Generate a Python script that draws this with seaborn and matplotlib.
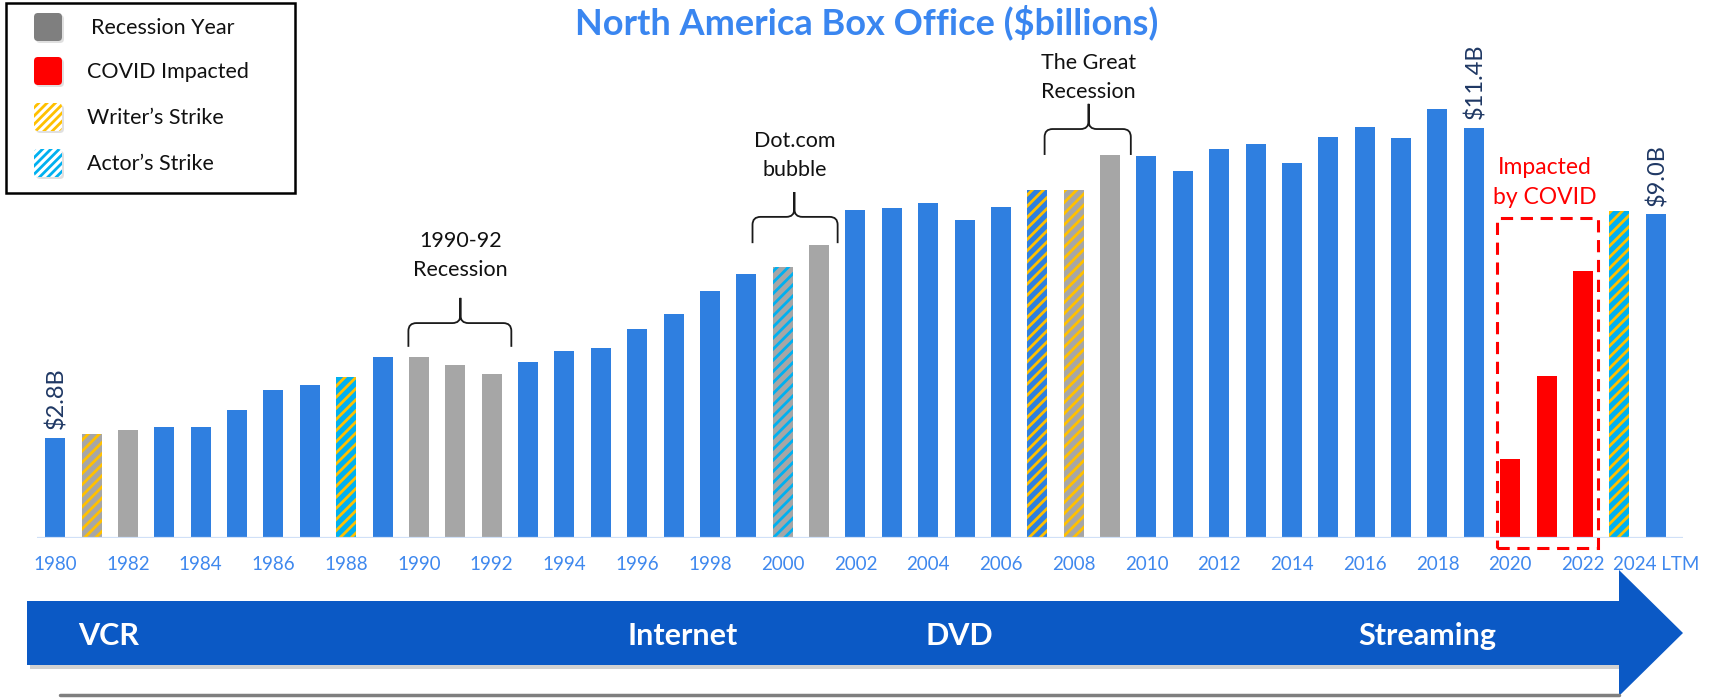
import numpy as np
import matplotlib
matplotlib.use("Agg")
import matplotlib.pyplot as plt
import matplotlib.transforms as mtransforms
from matplotlib.path import Path
from matplotlib.patches import PathPatch, Rectangle, FancyBboxPatch, Polygon
from matplotlib.lines import Line2D
import seaborn as sns

# ---------------- data ----------------
years = [str(y) for y in range(1980, 2024)] + ["2024 LTM"]
box_office = [2.79, 2.89, 3.00, 3.09, 3.09, 3.55, 4.10, 4.25, 4.47, 5.03,
              5.03, 4.81, 4.56, 4.89, 5.19, 5.27, 5.81, 6.22, 6.87, 7.33,
              7.53, 8.14, 9.11, 9.17, 9.31, 8.83, 9.19, 9.67, 9.67, 10.64,
              10.60, 10.20, 10.81, 10.94, 10.43, 11.14, 11.41, 11.12, 11.91, 11.40,
              2.19, 4.50, 7.42, 9.08, 8.99]
# bar category: N normal, R recession, C covid
bar_kind = list("NRRNNNNNNN" "RRRNNNNNNN" "RRNNNNNNRR" "NNNNNNNNNN" "CCCNN")
# stripe overlay: '' none, 'W' writer's strike (yellow), 'A' actor's strike (cyan), 'B' both
strike = ['', 'W', '', '', '', '', '', '', 'B', '',
          '', '', '', '', '', '', '', '', '', '',
          'A', '', '', '', '', '', '', 'W', 'W', '',
          '', '', '', '', '', '', '', '', '', '',
          '', '', '', 'B', '']
tick_labels = [str(y) for y in range(1980, 2023, 2)] + ["2024 LTM"]
value_labels = {0: "$2.8B", 39: "$11.4B", 44: "$9.0B"}
era_labels = ["VCR", "Internet", "DVD", "Streaming"]
legend_labels = ["Recession Year", "COVID Impacted", "Writer\u2019s Strike", "Actor\u2019s Strike"]

BLUE = "#2F7FE0"
GRAY = "#A6A6A6"
RED = "#FF0000"
YELLOW = "#FFC000"
CYAN = "#00B0F0"
kind_color = {"N": BLUE, "R": GRAY, "C": RED}

# ---------------- style ----------------
sns.set_theme(style="white")
plt.rcParams['font.family'] = ['Lato', 'DejaVu Sans']
plt.rcParams['hatch.linewidth'] = 2.0

W, H = 1710, 700
fig = plt.figure(figsize=(W / 100, H / 100), dpi=100)
fig.patch.set_facecolor("white")
# pixel transform, origin top-left
T = mtransforms.Affine2D().scale(1, -1).translate(0, H).scale(1 / W, 1 / H) + fig.transFigure

ax = fig.add_axes([37 / W, (H - 538) / H, 1646 / W, 450 / H])

colors = [kind_color[k] for k in bar_kind]
for i, s in enumerate(strike):
    if s == 'B' and bar_kind[i] == "N":
        colors[i] = CYAN

sns.barplot(x=years, y=box_office, hue=years, palette=colors, legend=False,
            width=0.55, saturation=1, ax=ax, order=years, hue_order=years)

bars = sorted(ax.patches, key=lambda p: p.get_x())
for i, b in enumerate(bars):
    b.set_linewidth(0)
    if strike[i] in ('W', 'B'):
        b.set_hatch('///')
        b.set_edgecolor(YELLOW)
    elif strike[i] == 'A':
        b.set_hatch('///')
        b.set_edgecolor(CYAN)

ax.set_xlim(-0.5, 44.75)
ax.set_ylim(0, 12.5)
for sp in ax.spines.values():
    sp.set_visible(False)
ax.axhline(0, color="#D0E0F7", lw=1.6, zorder=5)
ax.set_yticks([])
ax.set_ylabel("")
ax.set_xlabel("")
ax.set_xticks(range(0, 45, 2))
ax.set_xticklabels(tick_labels, fontsize=13.5, color="#3F88EE")
ax.tick_params(axis='x', length=0, pad=13)

# value labels
for idx, lab in value_labels.items():
    ax.annotate(lab, (idx, box_office[idx]), xytext=(1, 6), textcoords="offset points",
                rotation=90, ha="center", va="bottom", fontsize=17, color="#1F3864")

# braces
def brace(x0, x1, xm, ye, yh, yt, rx=0.22, ry=0.22):
    verts = [(x0, ye), (x0, yh - ry), (x0, yh), (x0 + rx, yh), (xm - rx, yh), (xm, yh),
             (xm, yh + ry), (xm, yt), (xm, yh + ry), (xm, yh), (xm + rx, yh),
             (x1 - rx, yh), (x1, yh), (x1, yh - ry), (x1, ye)]
    codes = [Path.MOVETO, Path.LINETO, Path.CURVE3, Path.CURVE3, Path.LINETO, Path.CURVE3,
             Path.CURVE3, Path.LINETO, Path.LINETO, Path.CURVE3, Path.CURVE3,
             Path.LINETO, Path.CURVE3, Path.CURVE3, Path.LINETO]
    ax.add_patch(PathPatch(Path(verts, codes), fill=False, lw=1.3, edgecolor="#1A1A1A",
                           clip_on=False, zorder=6))

brace(9.71, 12.54, 11.14, 5.31, 5.97, 6.67)
brace(19.17, 21.51, 20.32, 8.19, 8.92, 9.61)
brace(27.2, 29.57, 28.41, 10.64, 11.36, 12.06)

ann = dict(ha="center", va="center", fontsize=15.5, color="#111111")
ax.text(11.14, 8.25, "1990-92", **ann)
ax.text(11.14, 7.44, "Recession", **ann)
ax.text(20.32, 11.03, "Dot.com", **ann)
ax.text(20.32, 10.22, "bubble", **ann)
ax.text(28.41, 13.19, "The Great", **ann)
ax.text(28.41, 12.39, "Recession", **ann)

# covid box
ax.add_patch(Rectangle((39.63, -0.28), 2.78, 9.18, fill=False, edgecolor=RED, lw=2.2,
                       linestyle=(0, (4, 2.5)), clip_on=False, zorder=6))
ax.text(40.95, 10.28, "Impacted", ha="center", va="center", fontsize=16.5, color=RED)
ax.text(40.95, 9.47, "by COVID", ha="center", va="center", fontsize=16.5, color=RED)

# title
fig.text(867 / W, 1 - 22 / H, "North America Box Office ($billions)", ha="center", va="center",
         fontsize=26, fontweight="bold", color="#3A86F0")

# bottom arrow
fig.add_artist(Line2D([60, 1619], [695, 695], transform=T, color="#7F7F7F", lw=2.5))
shadow = Polygon([(30, 605), (1622, 605), (1622, 669), (30, 669)], closed=True,
                 transform=T, facecolor="#000000", alpha=0.18, edgecolor="none")
fig.add_artist(shadow)
arrow = Polygon([(27, 601), (1619, 601), (1619, 570), (1683, 633), (1619, 696),
                 (1619, 665), (27, 665)], closed=True, transform=T,
                facecolor="#0B59C5", edgecolor="none")
fig.add_artist(arrow)
for lab, xp in zip(era_labels, [78, 627, 925, 1358]):
    fig.text(xp, 636, lab, transform=T, ha="left", va="center", fontsize=22,
             fontweight="bold", color="white")

# legend
fig.add_artist(Rectangle((6, 3), 289, 190, transform=T, facecolor="white",
                         edgecolor="black", lw=1.8))
rows = [27, 71, 117, 163]
for r, lab, (fc, hc) in zip(rows, legend_labels,
                            [("#7F7F7F", None), (RED, None), ("white", YELLOW), ("white", CYAN)]):
    sh = FancyBboxPatch((36, r - 12), 28, 28, boxstyle="round,pad=0,rounding_size=4",
                        transform=T, facecolor="#000000", alpha=0.12, edgecolor="none")
    fig.add_artist(sh)
    p = FancyBboxPatch((34, r - 14), 28, 28, boxstyle="round,pad=0,rounding_size=4",
                       transform=T, facecolor=fc, edgecolor=hc if hc else "none", lw=0)
    if hc:
        p.set_hatch('////')
    fig.add_artist(p)
    fig.text(87 if r != 27 else 91, r + 1, lab, transform=T, ha="left", va="center",
             fontsize=15.5, color="#111111")

fig.savefig("out.png", dpi=100)
